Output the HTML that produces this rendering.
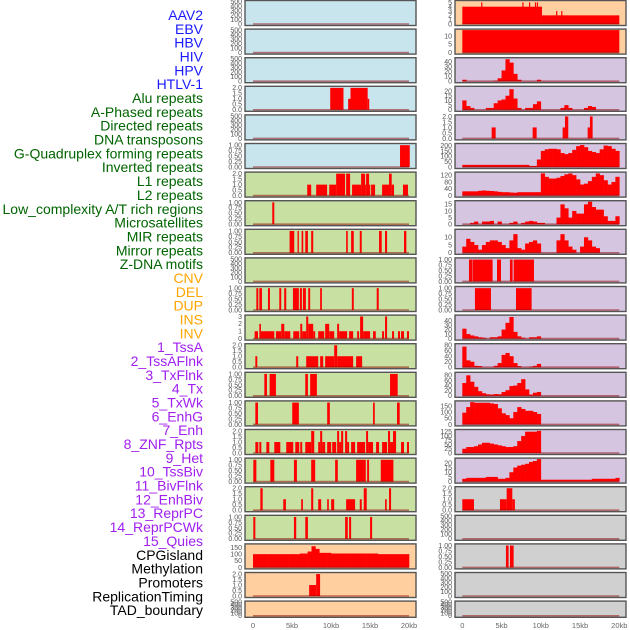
<!DOCTYPE html>
<html><head><meta charset="utf-8"><style>
html,body{margin:0;padding:0;background:#fff;width:630px;height:630px;overflow:hidden}
svg{display:block;font-family:"Liberation Sans",sans-serif}
</style></head><body>
<svg id="chart" width="630" height="630" viewBox="0 0 630 630"></svg>
<script>
// ---------- DATA ----------
const featureLabels = ["AAV2","EBV","HBV","HIV","HPV","HTLV-1","Alu repeats","A-Phased repeats","Directed repeats","DNA transposons","G-Quadruplex forming repeats","Inverted repeats","L1 repeats","L2 repeats","Low_complexity A/T rich regions","Microsatellites","MIR repeats","Mirror repeats","Z-DNA motifs","CNV","DEL","DUP","INS","INV","1_TssA","2_TssAFlnk","3_TxFlnk","4_Tx","5_TxWk","6_EnhG","7_Enh","8_ZNF_Rpts","9_Het","10_TssBiv","11_BivFlnk","12_EnhBiv","13_ReprPC","14_ReprPCWk","15_Quies","CPGisland","Methylation","Promoters","ReplicationTiming","TAD_boundary"];
const labelGroups = ["virus","virus","virus","virus","virus","virus","rep","rep","rep","rep","rep","rep","rep","rep","rep","rep","rep","rep","rep","sv","sv","sv","sv","sv","chrom","chrom","chrom","chrom","chrom","chrom","chrom","chrom","chrom","chrom","chrom","chrom","chrom","chrom","chrom","other","other","other","other","other"];
const xTicks = [0,5,10,15,20];
const xTickLabels = ["0","5kb","10kb","15kb","20kb"];
const ticksEmpty = [0,100,200,300,400,500];
const ticks2 = [0,0.5,1.0,1.5,2.0];
const ticks1 = [0,0.25,0.5,0.75,1.0];

const L4 = [[9.9,11.6,2],[12.2,12.5,1],[12.5,14.7,2],[14.7,14.9,1]];
const L6 = [[18.85,20.1,1]];
const L7 = [[6.95,7.46,1],[8.1,9.5,1],[9.77,10.66,1],[10.66,11.8,2],[11.94,12.45,2],[12.7,13.86,1],[13.86,14.37,2],[14.37,14.5,1],[14.5,14.88,2],[14.88,15.0,1],[15.14,15.65,1],[16.55,17.44,1],[17.44,17.78,2],[17.78,18.08,1],[19.23,19.87,1]];
const L8 = [[2.47,2.73,1]];
const L9 = [[4.69,5.29,1],[5.71,5.88,1],[6.23,6.44,1],[6.7,7.04,1],[7.46,7.72,1],[11.94,12.15,1],[12.58,12.92,1],[13.69,13.94,1],[16.16,16.5,1],[16.93,17.19,1],[19.36,19.66,1]];
const L11 = [[0.43,0.68,1],[0.81,1.15,1],[1.92,2.17,1],[3.37,3.62,1],[4.0,4.26,1],[5.12,5.88,1],[6.01,6.27,1],[6.4,6.78,1],[7.08,7.33,1],[8.61,8.83,1],[12.67,12.92,1],[15.86,16.12,1]];
const L12 = [[0.21,0.64,1],[0.81,1.02,2],[1.02,2.73,1],[2.94,3.62,1],[3.62,4.01,2],[4.01,4.78,1],[5.16,5.93,1],[6.06,6.31,2],[6.31,6.82,1],[6.82,7.08,3],[7.08,7.72,2],[7.72,7.97,1],[8.36,9.13,1],[9.25,9.77,2],[9.77,10.41,1],[10.79,11.04,2],[11.04,12.07,1],[12.32,12.84,1],[13.35,13.6,1],[13.73,14.12,3],[14.12,15.01,1],[15.39,15.74,1],[16.55,16.8,1],[16.93,17.19,3],[17.83,18.08,1],[18.59,18.85,1],[18.98,19.36,1],[19.74,20.0,1]];
const L13 = [[0.3,0.55,1],[5.54,5.8,1],[6.82,8.36,1],[8.61,9.0,1],[9.25,10.41,1],[10.41,10.79,2],[10.79,12.84,1],[13.22,13.99,1]];
const L14 = [[1.45,1.79,1],[2.13,2.94,1],[6.7,7.04,1],[7.33,8.19,1],[17.57,18.55,1]];
const L15 = [[0.3,0.64,1],[5.03,5.88,1],[9.51,9.85,1],[15.39,15.61,1],[18.46,18.81,1]];
const L16 = [[0.3,0.68,1],[0.81,1.07,1],[1.71,2.09,1],[2.73,3.5,1],[4.26,5.16,1],[5.42,5.93,1],[6.06,6.31,1],[6.7,7.46,1],[7.46,7.85,2],[8.36,8.61,1],[8.61,8.87,2],[8.87,9.25,1],[9.51,10.02,1],[10.15,10.66,1],[10.79,11.04,2],[11.04,11.3,1],[11.3,11.56,2],[11.81,12.07,2],[12.07,12.32,1],[12.58,13.09,1],[13.35,14.37,1],[14.5,14.75,2],[14.75,15.39,1],[15.78,16.16,1],[16.55,17.19,1],[17.31,17.57,2],[17.57,17.95,1],[17.95,18.34,2],[18.98,19.36,1],[19.74,20.0,1]];
const L17 = [[0.04,0.43,1],[2.22,2.73,1],[5.25,5.63,1],[7.46,7.97,1],[10.53,10.87,1],[13.22,14.46,1],[14.63,14.88,1],[16.38,18.0,1]];
const L18 = [[0.94,1.24,2],[3.88,4.22,1],[6.18,6.4,1],[7.46,7.72,2],[8.36,8.74,1],[9.51,9.72,1],[10.02,10.41,1],[11.94,13.09,1],[13.69,13.94,1],[14.2,14.58,2],[16.93,17.14,1],[17.44,17.7,2]];
const L19 = [[0.04,0.3,1],[5.25,5.54,1],[6.7,7.04,1],[11.81,12.15,1],[12.32,12.58,1],[15.01,15.27,1]];
const L21 = [[7.2,8.1,1],[8.1,8.6,2]];
const L20 = [100,100,100,100,100,100,100,100,100,100,100,100,105,105,120,160,140,110,110,110,105,105,105,105,105,105,105,105,105,105,105,105,100,100,100,100,100,100,100,100];

const R1 = [[0,10.15,4],[2.4,2.55,5],[7.65,7.8,5],[8.5,8.65,5],[9.25,9.4,5],[9.5,9.65,5],[10.15,20,2],[11.95,12.1,3],[12.6,12.75,3]];
const R2 = [[0,20,13.5]];
const R3 = [3,0,0,0,0,0,0,0,1,6,22,45,38,15,3,0,0,0,0,3,0,0,0,0,0,0,0,0,0,0,0,0,0,0,0,0,0,0,0,0];
const R4 = [10,4,2,0,0,0,2,2,7,10,11,15,22,12,2,0,2,2,6,9,0,0,0,0,0,2,5,2,0,0,0,2,4,3,0,0,0,0,0,0];
const R5 = [[3.74,4.25,1],[8.96,9.47,1],[12.78,13.08,1],[13.08,13.5,2],[15.97,16.26,1],[16.26,16.6,2]];
const R6 = [20,20,20,20,20,20,20,20,20,20,20,20,20,20,20,20,20,10,10,70,150,165,170,170,165,130,120,130,160,195,205,185,150,140,130,165,200,195,170,150];
const R7 = [25,25,25,25,28,30,28,27,25,22,20,20,18,17,20,20,20,20,20,20,130,110,100,100,105,115,125,130,120,95,65,70,85,110,130,120,90,65,80,110];
const R8 = [0,0,1,2,0,2,2,2.5,0,2,0,0,1,2,0,1,2,2.5,2,1,1,0,0,0,5,15,12,5,10,8,8,15,17,13,11,11,6,2.5,2.5,6];
const R9 = [4,9,7,5,2,5,7,8,8,7,5,3,8,12,3,2,6,7,8,6,0,0,0,0,8,12,8,4,2,0,4,10,8,4,3,0,0,0,0,0];
const R10 = [[0.85,1.27,1],[1.32,3.86,1],[4.42,4.93,1],[6.07,6.41,1],[6.54,9.13,1]];
const R11 = [[1.61,3.65,1],[6.84,8.83,1]];
const R12 = [22,10,7,5,3,2,0,3,3,5,20,35,48,15,5,2,0,3,3,5,0,0,0,0,0,0,0,0,0,0,0,0,0,0,0,0,0,0,0,0];
const R13 = [75,25,20,5,4,0,0,0,5,15,45,52,40,15,4,0,0,2,5,12,0,0,0,0,0,0,0,0,0,0,0,0,0,0,0,0,0,0,0,0];
const R14 = [50,80,55,35,18,10,6,5,7,6,15,22,38,40,50,65,25,5,12,15,0,0,0,0,0,0,0,0,0,0,0,0,0,0,0,0,0,0,0,0];
const R15 = [95,140,180,175,175,175,175,170,165,130,90,75,50,100,140,125,110,110,100,85,0,0,0,0,0,0,0,0,0,0,0,0,0,0,0,0,0,0,0,0];
const R16 = [25,35,35,40,50,60,60,55,50,45,40,35,35,40,70,100,125,125,125,130,0,0,0,0,0,0,0,0,0,0,0,0,0,0,0,0,0,0,0,0];
const R17 = [3,4,4,4,4,4,5,5,5,3,3,4,10,15,17,18,19,21,22,24,2,2,2,2,2,2,2,2,2,2,2,2,2,3,3,3,3,3,3,4];
const R18 = [[0,1.49,1],[4.8,5.65,1],[5.65,6.37,2],[6.37,6.7,1]];
const R20 = [[5.56,5.9,1],[6.07,6.54,1]];

const BLUE="#c8e4ec",GREEN="#c8e0a2",ORANGE="#ffcf9f",PURPLE="#d5c5e1",GRAY="#d0d0d0";
const leftPanels = [
 {bg:BLUE,max:500,ticks:ticksEmpty},{bg:BLUE,max:500,ticks:ticksEmpty},{bg:BLUE,max:500,ticks:ticksEmpty},
 {bg:BLUE,max:2.05,ticks:ticks2,seg:L4},{bg:BLUE,max:500,ticks:ticksEmpty},{bg:BLUE,max:1.03,ticks:ticks1,seg:L6},
 {bg:GREEN,max:2.05,ticks:ticks2,seg:L7},{bg:GREEN,max:1.03,ticks:ticks1,seg:L8},{bg:GREEN,max:1.03,ticks:ticks1,seg:L9},
 {bg:GREEN,max:500,ticks:ticksEmpty},{bg:GREEN,max:1.03,ticks:ticks1,seg:L11},{bg:GREEN,max:3.05,ticks:[0,1,2,3],seg:L12},
 {bg:GREEN,max:2.05,ticks:ticks2,seg:L13},{bg:GREEN,max:1.03,ticks:ticks1,seg:L14},{bg:GREEN,max:1.03,ticks:ticks1,seg:L15},
 {bg:GREEN,max:2.05,ticks:ticks2,seg:L16},{bg:GREEN,max:1.03,ticks:ticks1,seg:L17},{bg:GREEN,max:2.05,ticks:ticks2,seg:L18},
 {bg:GREEN,max:1.03,ticks:ticks1,seg:L19},{bg:ORANGE,max:170,ticks:[0,50,100,150],bins:L20},
 {bg:ORANGE,max:2.05,ticks:ticks2,seg:L21},{bg:ORANGE,max:500,ticks:ticksEmpty}
];
const rightPanels = [
 {bg:ORANGE,max:5.2,ticks:[0,1,2,3,4,5],seg:R1},{bg:ORANGE,max:13.5,ticks:[0,5,10],seg:R2},
 {bg:PURPLE,max:46,ticks:[0,10,20,30,40],bins:R3},{bg:PURPLE,max:24,ticks:[0,5,10,15,20],bins:R4},
 {bg:PURPLE,max:2.05,ticks:ticks2,seg:R5},{bg:PURPLE,max:210,ticks:[0,50,100,150,200],bins:R6},
 {bg:PURPLE,max:132,ticks:[0,40,80,120],bins:R7},{bg:PURPLE,max:17,ticks:[0,5,10,15],bins:R8},
 {bg:PURPLE,max:14.5,ticks:[0,5,10],bins:R9},{bg:PURPLE,max:1.03,ticks:ticks1,seg:R10},
 {bg:PURPLE,max:1.03,ticks:ticks1,seg:R11},{bg:PURPLE,max:50,ticks:[0,10,20,30,40],bins:R12},
 {bg:PURPLE,max:82,ticks:[0,20,40,60,80],bins:R13},{bg:PURPLE,max:88,ticks:[0,20,40,60,80],bins:R14},
 {bg:PURPLE,max:182,ticks:[0,50,100,150],bins:R15},{bg:PURPLE,max:132,ticks:[0,25,50,75,100,125],bins:R16},
 {bg:PURPLE,max:24,ticks:[0,5,10,15,20],bins:R17},{bg:GRAY,max:2.05,ticks:ticks2,seg:R18},
 {bg:GRAY,max:500,ticks:ticksEmpty},{bg:GRAY,max:1.03,ticks:ticks1,seg:R20},
 {bg:GRAY,max:500,ticks:ticksEmpty},{bg:GRAY,max:500,ticks:ticksEmpty}
];

const NS="http://www.w3.org/2000/svg";
const svg=document.getElementById('chart');
function mk(tag,attrs,parent){const e=document.createElementNS(NS,tag);for(const k in attrs)e.setAttribute(k,attrs[k]);(parent||svg).appendChild(e);return e;}
const groupColor={virus:"#1a1aff",rep:"#006400",sv:"#ffa500",chrom:"#a020f0",other:"#000000"};

featureLabels.forEach((t,i)=>{
  const el=mk('text',{x:203,y:15+13.84*i,'text-anchor':'end','dominant-baseline':'central','font-size':'14',fill:groupColor[labelGroups[i]]});
  el.textContent=t;
  
  
});

function rowTop(k){return 0.5+28.6*k;}
function rowH(k){return k===21?16.2:25;}
const cols=[{panels:leftPanels,x0:245,x1:416,d0:253,d1:409,name:'left'},{panels:rightPanels,x0:455,x1:626,d0:462.3,d1:619.3,name:'right'}];

cols.forEach(col=>{
  const xs=kb=>col.d0+(kb/20)*(col.d1-col.d0);
  col.panels.forEach((p,k)=>{
    const top=rowTop(k),h=rowH(k),bot=top+h;
    const y0=bot-1.5,yTop=top+1;
    const ys=v=>y0-(v/p.max)*(y0-yTop);
    const g=mk('g',{});
    
    
    const bg=mk('rect',{x:col.x0,y:top,width:col.x1-col.x0,height:h,fill:p.bg},g);
    
    
    if(p.seg){p.seg.forEach(s=>{
      const yv=Math.max(ys(s[2]),top);
      const r=mk('rect',{x:xs(s[0]),y:yv,width:Math.max(xs(s[1])-xs(s[0]),1.2),height:y0-yv,fill:'#ff0000'},g);
      
      
    });}
    if(p.bins){p.bins.forEach((v,i)=>{
      if(v<=0)return;
      const yv=Math.max(ys(v),top);
      const r=mk('rect',{x:xs(i*0.5),y:yv,width:xs((i+1)*0.5)-xs(i*0.5)+0.3,height:y0-yv,fill:'#ff0000'},g);
      
      
    });}
    const bl=mk('line',{x1:xs(0),x2:xs(20),y1:y0,y2:y0,stroke:'rgba(139,0,0,0.5)','stroke-width':1.6},g);
    
    
    const fr=mk('rect',{x:col.x0,y:top,width:col.x1-col.x0,height:h,fill:'none',stroke:'#555','stroke-width':1.4},g);
    
    
    p.ticks.forEach(t=>{
      const tx=mk('text',{x:col.x0-3,y:ys(t)+2.4,'text-anchor':'end','font-size':'7',fill:'#555'},g);
      tx.textContent=(p.ticks===ticks2)?t.toFixed(1):(p.ticks===ticks1?t.toFixed(2):String(t));
      
      
    });
  });
  xTicks.forEach((t,i)=>{
    const tx=mk('text',{x:xs(t),y:628,'text-anchor':'middle','font-size':'7.5',fill:'#666'});
    tx.textContent=xTickLabels[i];
    
    
  });
});
</script>
</body></html>
